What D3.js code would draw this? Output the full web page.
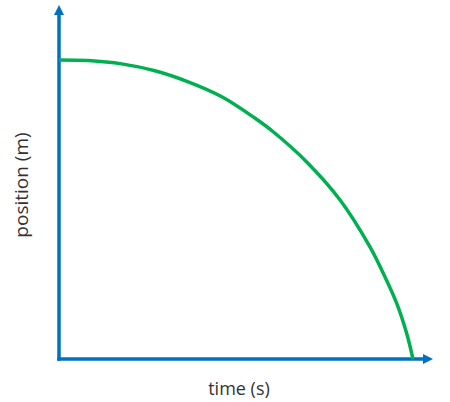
<!DOCTYPE html>
<html>
<head>
<meta charset="utf-8">
<script src="https://cdn.jsdelivr.net/npm/d3@7"></script>
<style>
	body { margin: 0; background: #fff; }
	text { font-family: 'Open Sans', sans-serif; fill: #333; }
</style>
</head>
<body>
<div class="chart"></div>
<script>
// values (arbitrary units, 0..10)
const times = [0, 0.83, 1.77, 2.71, 3.65, 4.60, 5.54, 6.05, 6.99, 7.94, 8.78, 9.16, 9.54, 9.82, 10];
const positions = [10, 9.98, 9.87, 9.64, 9.27, 8.77, 8.05, 7.60, 6.60, 5.32, 3.76, 2.87, 1.86, 0.86, 0];
const axisLabels = ['time (s)', 'position (m)'];

const width = 450;
const height = 402;
const blue = '#0070C0';
const green = '#00B050';

const x = d3.scaleLinear().domain([0, 10]).range([59, 413]);
const y = d3.scaleLinear().domain([0, 10]).range([359, 60]);

const svg = d3.select('.chart')
	.append('svg')
	.attr('width', width)
	.attr('height', height);

svg.append('defs')
	.append('marker')
	.attr('id', 'arrow')
	.attr('viewBox', '0 0 10 10')
	.attr('refX', 0)
	.attr('refY', 5)
	.attr('markerUnits', 'userSpaceOnUse')
	.attr('markerWidth', 10)
	.attr('markerHeight', 10)
	.attr('orient', 'auto')
	.append('path')
	.attr('d', 'M0,0L10,5L0,10Z')
	.attr('fill', blue);

// axes, the lines stop where the arrow heads start
svg.append('line')
	.attr('x1', x(0)).attr('y1', y(0) + 1.75)
	.attr('x2', x(0)).attr('y2', 15)
	.attr('stroke', blue)
	.attr('stroke-width', 3.5)
	.attr('marker-end', 'url(#arrow)');

svg.append('line')
	.attr('x1', x(0) - 1.75).attr('y1', y(0))
	.attr('x2', 423).attr('y2', y(0))
	.attr('stroke', blue)
	.attr('stroke-width', 3.5)
	.attr('marker-end', 'url(#arrow)');

const line = d3.line()
	.x((d, i) => x(times[i]))
	.y(d => y(d))
	.curve(d3.curveCatmullRom.alpha(0.5));

svg.append('path')
	.datum(positions)
	.attr('d', line)
	.attr('fill', 'none')
	.attr('stroke', green)
	.attr('stroke-width', 3.5);

svg.append('text')
	.attr('x', 239)
	.attr('y', 395)
	.attr('text-anchor', 'middle')
	.style('font-size', '18px')
	.text(axisLabels[0]);

svg.append('text')
	.attr('transform', 'translate(28,185) rotate(-90)')
	.attr('text-anchor', 'middle')
	.style('font-size', '19px')
	.text(axisLabels[1]);
</script>
</body>
</html>
